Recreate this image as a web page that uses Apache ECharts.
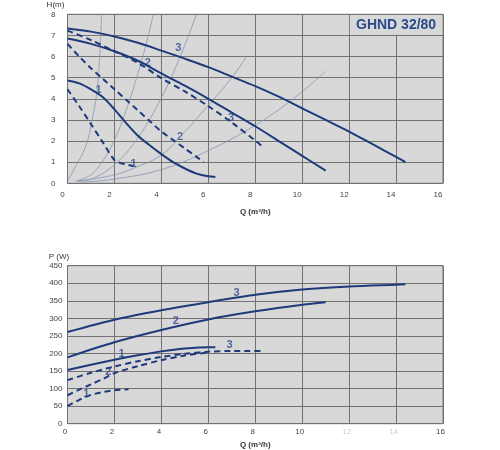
<!DOCTYPE html>
<html>
<head>
<meta charset="utf-8">
<script src="https://cdn.jsdelivr.net/npm/echarts@6/dist/echarts.min.js"></script>
<style>
html,body{margin:0;padding:0;background:#fff;}
#c{width:500px;height:450px;}
</style>
</head>
<body>
<div id="c"></div>
<script>
// ---- Top chart: head H (m) vs flow Q (m3/h)
const hSolid3 = [[0,7.33],[1,7.18],[2,6.95],[3,6.65],[4,6.28],[5,5.9],[6,5.5],[7,5.05],[8,4.6],[9,4.1],[10,3.55],[11,3.0],[12,2.45],[13,1.85],[14,1.25],[14.4,1.0]];
const hSolid2 = [[0,6.85],[1,6.6],[2,6.25],[3,5.8],[4,5.2],[5,4.62],[6,4.0],[7,3.35],[8,2.7],[9,2.0],[10,1.3],[11,0.6]];
const hSolid1 = [[0,4.87],[0.5,4.73],[1,4.45],[1.5,4.08],[2,3.5],[2.5,2.85],[3,2.25],[3.5,1.8],[4,1.38],[4.5,1.0],[5,0.7],[5.5,0.46],[6,0.33],[6.3,0.3]];
const hDashed3 = [[0,7.23],[1,6.78],[2,6.25],[3,5.7],[4,4.98],[5,4.35],[6,3.65],[7,2.88],[8,2.02],[8.3,1.75]];
const hDashed2 = [[0,6.6],[0.5,6.0],[1,5.45],[1.5,4.95],[2,4.45],[2.5,3.95],[3,3.45],[3.5,2.95],[4,2.45],[4.5,2.05],[5,1.65],[5.5,1.25],[5.8,1.0]];
const hDashed1 = [[0,4.45],[0.5,3.65],[1,2.8],[1.5,1.95],[2,1.1],[2.3,0.95],[2.8,0.82]];
// thin system curves
const sysA = [[0.03,0.16],[0.34,0.79],[0.77,1.73],[1.05,3.0],[1.26,4.42],[1.4,6.6],[1.45,8.0]];
const sysB = [[0.35,0.1],[1,0.4],[1.5,1.05],[2,2.05],[2.5,3.45],[3,5.2],[3.4,6.8],[3.66,8.0]];
const sysC = [[0.4,0.1],[1,0.2],[2,0.88],[3,2.15],[4,4.05],[4.8,6.0],[5.5,8.0]];
const sysD = [[0.45,0.1],[2,0.4],[3,0.8],[3.95,1.3],[4.8,2.2],[5.93,3.6],[7,5.0],[7.63,6.0]];
const sysE = [[0.6,0.05],[2,0.2],[4,0.65],[6,1.55],[8,2.75],[9.62,4.0],[11,5.3]];
const topLabels = [['3',4.72,6.42],['2',3.42,5.69],['3',6.97,3.08],['2',4.8,2.21],['1',1.32,4.42],['1',2.81,0.91]];

// ---- Bottom chart: power P (W) vs flow Q
const pSolid3 = [[0,261],[2,296],[4,323],[6,346],[8,367],[10,382],[12,391],[14,396],[14.4,397]];
const pSolid2 = [[0,189],[2,232],[4,267],[6,297],[8,320],[10,339],[11,346]];
const pSolid1 = [[0,153],[1,168],[2,182],[3,195],[4,206],[5,214],[6,218],[6.3,218]];
const pDashed3 = [[0,124],[1,145],[2,163],[3,178],[4,190],[5,199],[6,205],[7,207],[8.3,207]];
const pDashed2 = [[0,81],[0.5,97],[1,112],[1.5,127],[2,144],[3,164],[4,181],[5,194],[6,203]];
const pDashed1 = [[0,50],[0.5,68],[1,82],[1.5,90],[2,95],[2.6,98]];
const botLabels = [['3',7.2,373],['2',4.62,292],['1',2.3,200],['3',6.91,224],['2',1.74,148],['1',0.8,85]];

const modelName = 'GHND 32/80';
const qName = 'Q (m\u00b3/h)';

const FONT = 'Liberation Sans, Arial, sans-serif';
const NAVY = '#1e3a7b';
const THIN = '#8796b4';
const GRIDC = '#727272';
const BG = '#d8d8d8';

function curve(data, idx, dashed, extra){
  return Object.assign({
    type:'line', xAxisIndex:idx, yAxisIndex:idx, data:data,
    showSymbol:false, symbol:'none', smooth:0.3, silent:true,
    lineStyle:{color:NAVY, width:2, type: dashed ? [6,4] : 'solid'}
  }, extra||{});
}
function thin(data){
  return {type:'line', xAxisIndex:0, yAxisIndex:0, data:data, showSymbol:false, symbol:'none',
    smooth:0.4, silent:true, lineStyle:{color:THIN, width:0.8}};
}
function labels(arr, idx){
  return {type:'scatter', xAxisIndex:idx, yAxisIndex:idx, symbolSize:0, silent:true,
    data: arr.map(a=>({value:[a[1],a[2]], name:a[0]})),
    label:{show:true, position:'inside', formatter:p=>p.name, color:'#2a4a8c',
      fontFamily:FONT, fontWeight:'bold', fontSize:11}};
}
function xAx(idx, pad, nameGap, margin){
  return {type:'value', gridIndex:idx, min:0, max:16, interval:2,
    name:qName, nameLocation:'middle', nameGap:nameGap,
    nameTextStyle:{fontFamily:FONT, fontSize:8, fontWeight:'bold', color:'#333'},
    axisLine:{show:false}, axisTick:{show:false},
    splitLine:{show:true, lineStyle:{color:GRIDC, width:1}},
    axisLabel:{fontFamily:FONT, fontSize:8, color:'#444', margin:margin, padding:[0,pad,0,0],
      formatter: idx===1 ? (v => (v===12||v===14) ? '{f|'+v+'}' : String(v)) : (v=>String(v)),
      rich:{f:{color:'#cfcfcf', fontFamily:FONT, fontSize:8}}}
  };
}
function yAx(idx, max, interval, name, margin, namePad, nameGap){
  return {type:'value', gridIndex:idx, min:0, max:max, interval:interval,
    name:name, nameLocation:'end', nameGap:nameGap,
    nameTextStyle:{fontFamily:FONT, fontSize:8, color:'#333', align:'center', padding:[0,namePad,0,0]},
    axisLine:{show:false}, axisTick:{show:false},
    splitLine:{show:true, lineStyle:{color:GRIDC, width:1}},
    axisLabel:{fontFamily:FONT, fontSize:8, color:'#444', margin:margin}
  };
}

const chart = echarts.init(document.getElementById('c'), null, {renderer:'canvas'});
chart.setOption({
  animation:false,
  backgroundColor:'#ffffff',
  grid:[
    {left:67.5, right:57, top:14.3, height:169, show:true, backgroundColor:BG, borderColor:GRIDC, borderWidth:1},
    {left:67.5, right:57, top:265.7, height:158, show:true, backgroundColor:BG, borderColor:GRIDC, borderWidth:1}
  ],
  xAxis:[ xAx(0,10,24,7), xAx(1,5,17,4) ],
  yAxis:[ yAx(0,8,1,'H(m)',12,24,6), yAx(1,450,50,'P (W)',5,17,5) ],
  series:[
    Object.assign(thin(sysA), {
      markArea:{silent:true, itemStyle:{color:BG},
        label:{show:true, position:'inside', formatter:modelName, color:'#2a4a8c',
          fontFamily:FONT, fontWeight:'bold', fontSize:14},
        data:[[{coord:[12.03,7.97]},{coord:[15.97,7.03]}]]}
    }),
    thin(sysB), thin(sysC), thin(sysD), thin(sysE),
    curve(hSolid3,0,false), curve(hSolid2,0,false), curve(hSolid1,0,false),
    curve(hDashed3,0,true), curve(hDashed2,0,true), curve(hDashed1,0,true),
    labels(topLabels,0),
    curve(pSolid3,1,false), curve(pSolid2,1,false), curve(pSolid1,1,false),
    curve(pDashed3,1,true), curve(pDashed2,1,true), curve(pDashed1,1,true),
    labels(botLabels,1)
  ]
});
</script>
</body>
</html>
